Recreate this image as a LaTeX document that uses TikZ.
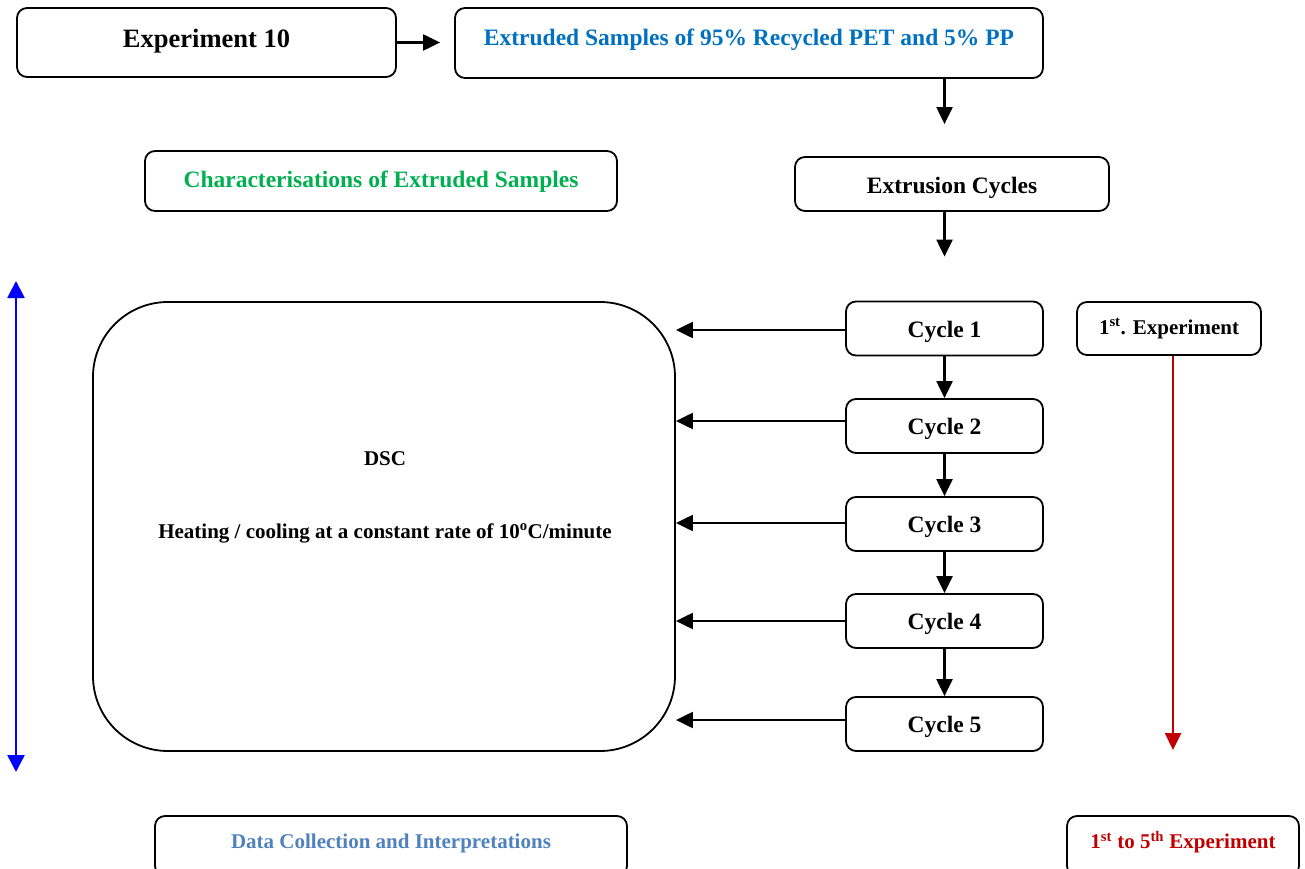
\documentclass[tikz,border=0pt]{standalone}
\usepackage{fontspec}
\setmainfont{Liberation Serif}
\usetikzlibrary{arrows.meta}
\definecolor{headblue}{RGB}{0,112,192}
\definecolor{headgreen}{RGB}{0,176,80}
\definecolor{datablue}{RGB}{79,129,189}
\definecolor{darkred}{RGB}{192,0,0}
\newcommand{\bigtext}{\fontsize{23.5}{27}\selectfont\bfseries}
\newcommand{\smalltext}{\fontsize{21}{25}\selectfont\bfseries}
% move a label down (negative) or up (positive) without changing its box
\newcommand{\nudge}[2]{\raisebox{#1}[\height][\depth]{#2}}
\begin{document}
\begin{tikzpicture}[x=1pt,y=-1pt,
  box/.style={draw, line width=1.8pt, rounded corners=10pt, inner sep=0pt, align=center},
  arr/.style={line width=2.2pt, -{Triangle[length=17pt,width=16pt]}},
  cyclebox/.style={box, minimum width=197pt, minimum height=54pt, font=\bigtext}]
\useasboundingbox (0,0) rectangle (1305,869);

% top row
\node[box, minimum width=379pt, minimum height=69pt, font=\fontsize{26.5}{30}\selectfont\bfseries] (exp) at (206.5,42.5) {\nudge{1.5pt}{Experiment 10}};
\node[box, minimum width=588pt, minimum height=70pt, font=\bigtext, text=headblue] (ext) at (749,43) {\nudge{3pt}{Extruded Samples of 95\% Recycled PET and 5\% PP}};

% characterisation heading and extrusion cycles
\node[box, minimum width=472pt, minimum height=60pt, font=\bigtext, text=headgreen] (char) at (381,181) {\nudge{-1pt}{Characterisations of Extruded Samples}};
\node[box, minimum width=314pt, minimum height=54pt, font=\bigtext] (cycles) at (952,184) {\nudge{-4pt}{Extrusion Cycles}};

% DSC block
\node[draw, line width=1.8pt, rounded corners=75pt, minimum width=582pt, minimum height=449pt] (dsc) at (384,526.5) {};
\node[font=\smalltext] (dsctitle) at (385,459) {DSC};
\node[font=\smalltext] (dscrate) at (385,533) {Heating / cooling at a constant rate of 10\textsuperscript{o}C/minute};

% the five cycles
\node[cyclebox] (c1) at (944.5,328.5) {\nudge{-3pt}{Cycle 1}};
\node[cyclebox] (c2) at (944.5,426) {\nudge{-3pt}{Cycle 2}};
\node[cyclebox] (c3) at (944.5,524) {\nudge{-3pt}{Cycle 3}};
\node[cyclebox] (c4) at (944.5,621) {\nudge{-3pt}{Cycle 4}};
\node[cyclebox] (c5) at (944.5,724) {\nudge{-3pt}{Cycle 5}};

% experiment range
\node[box, minimum width=184pt, minimum height=53pt, font=\smalltext] (first) at (1169,328.5) {1\textsuperscript{st}. Experiment};
\node[box, minimum width=232pt, minimum height=60pt, font=\smalltext, text=darkred] (range) at (1183,846) {\nudge{4pt}{1\textsuperscript{st} to 5\textsuperscript{th} Experiment}};
\node[box, minimum width=472pt, minimum height=60pt, font=\smalltext, text=datablue] (data) at (391,846) {\nudge{3pt}{Data Collection and Interpretations}};

% connectors
\draw[arr, shorten >=14pt] (exp.east) -- (exp.east -| ext.west);
\draw[arr, shorten >=32pt] (ext.south -| c1.north) -- (cycles.north -| c1.north);
\draw[arr, shorten >=44pt] (cycles.south -| c1.north) -- (c1.north);
\draw[arr] (c1) -- (c2);
\draw[arr] (c2) -- (c3);
\draw[arr] (c3) -- (c4);
\draw[arr] (c4) -- (c5);
\draw[arr] ([yshift=-1.5pt]c1.west) -- ([yshift=-1.5pt]c1.west -| dsc.east);
\draw[arr] ([yshift=5pt]c2.west) -- ([yshift=5pt]c2.west -| dsc.east);
\draw[arr] ([yshift=1pt]c3.west) -- ([yshift=1pt]c3.west -| dsc.east);
\draw[arr] (c4.west) -- (c4.west -| dsc.east);
\draw[arr] ([yshift=4pt]c5.west) -- ([yshift=4pt]c5.west -| dsc.east);

% range arrows
\coordinate (bluetop) at (16,281);
\coordinate (bluebot) at (16,772);
\draw[line width=2.5pt, blue, {Triangle[length=17pt,width=17pt]}-{Triangle[length=17pt,width=17pt]}] (bluetop) -- (bluebot);
\coordinate (redend) at (1173,750);
\draw[line width=2.5pt, darkred, -{Triangle[length=17pt,width=16pt]}] (first.south -| redend) -- (redend);
\end{tikzpicture}
\end{document}
